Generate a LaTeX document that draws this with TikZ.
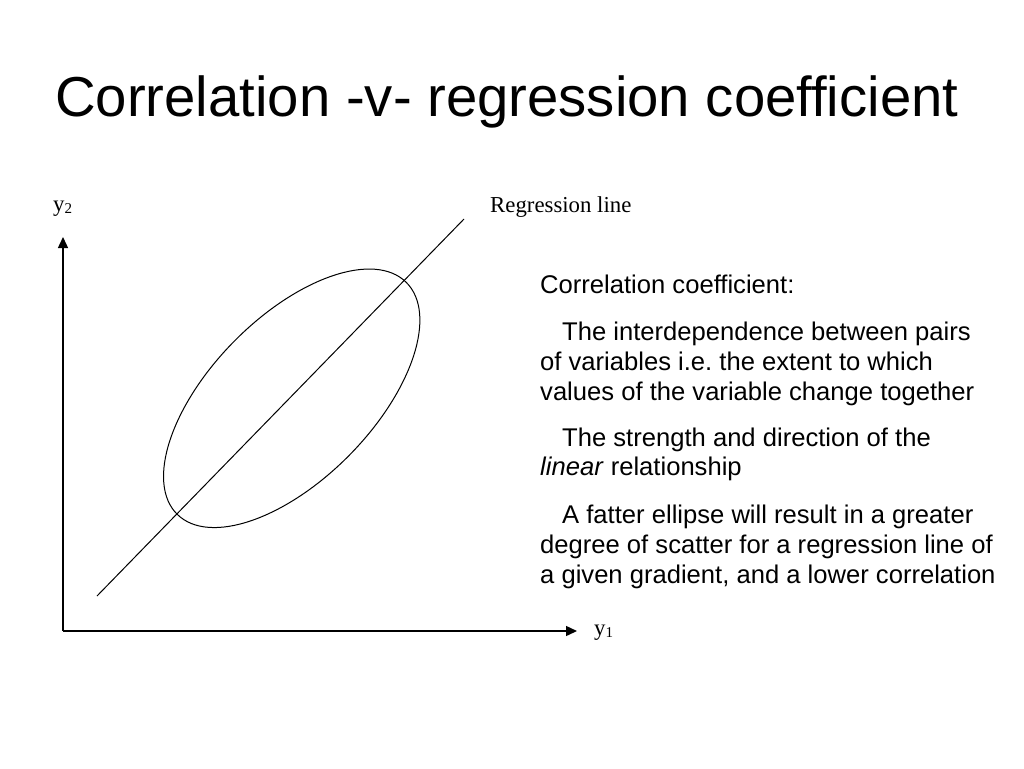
\documentclass[tikz,border=0pt]{standalone}
\usepackage{fontspec}
\setmainfont{Liberation Sans}[Ligatures={TeX,CommonOff}]
\newfontfamily\timesfont{Liberation Serif}[Ligatures={TeX,CommonOff}]
\usetikzlibrary{arrows.meta,shapes.geometric}
\frenchspacing
\begin{document}
\begin{tikzpicture}[x=1pt,y=-1pt,
  axis/.style={line width=1.4pt,-{Triangle[length=11pt,width=10pt]}},
  thin line/.style={line width=1pt},
  body/.style={anchor=base west,inner sep=0pt,font=\fontsize{25.6}{30}\selectfont},
  serif label/.style={anchor=base west,inner sep=0pt,font=\timesfont\fontsize{22.8}{26}\selectfont}]
\useasboundingbox[fill=white] (0,0) rectangle (1024,768);
% title
\node[anchor=base west,inner sep=0pt,font=\fontsize{56.3}{68}\selectfont] (title) at (55,116) {Correlation -v- regression coefficient};
% axes
\coordinate (O) at (63,631);
\coordinate (ytip) at (63,237);
\coordinate (xtip) at (577,631);
\draw[axis] (O) -- (ytip);
\draw[axis] (O) -- (xtip);
\node[serif label] (ylab) at (53,211) {y\raisebox{-0.25ex}{\fontsize{15}{17}\selectfont 2}};
\node[serif label] (xlab) at (594,635) {y\raisebox{-0.25ex}{\fontsize{15}{17}\selectfont 1}};
% regression line and ellipse
\coordinate (r1) at (97,596);
\coordinate (r2) at (464,219);
\draw[thin line] (r1) -- (r2);
\node[draw,thin line,ellipse,inner sep=0pt,minimum width=326pt,minimum height=162pt,rotate=45.4] (ell) at (291.7,398.3) {};
\node[serif label] (reglab) at (490,212.7) {Regression line};
% text
\node[body] (t1) at (540,293.3) {Correlation coefficient:};
\node[body] (t2) at (562,340) {The interdependence between pairs};
\node[body] (t3) at (540,370) {of variables i.e. the extent to which};
\node[body] (t4) at (540,400) {values of the variable change together};
\node[body] (t5) at (562,446.7) {The strength and direction of the};
\node[body] (t6) at (540,475.5) {\textit{linear} relationship};
\node[body] (t7) at (562,523) {A fatter ellipse will result in a greater};
\node[body] (t8) at (540,553) {degree of scatter for a regression line of};
\node[body] (t9) at (540,583) {a given gradient, and a lower correlation};
\end{tikzpicture}
\end{document}
